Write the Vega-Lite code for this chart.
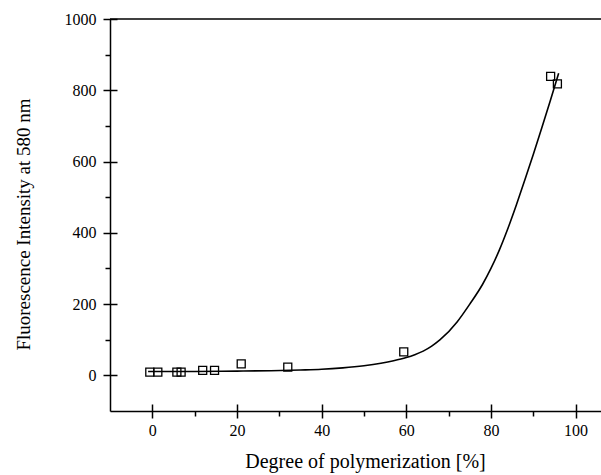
{
  "$schema": "https://vega.github.io/schema/vega-lite/v6.json",
  "width": 491,
  "height": 392,
  "autosize": "none",
  "padding": {"left": 110, "top": 19, "right": 0, "bottom": 64},
  "background": "white",
  "config": {
    "view": {"stroke": null},
    "font": "Liberation Serif",
    "axis": {
      "labelFont": "Liberation Serif",
      "titleFont": "Liberation Serif",
      "labelColor": "black",
      "titleColor": "black",
      "domainColor": "black",
      "tickColor": "black",
      "labelFontSize": 16,
      "titleFontSize": 20,
      "titleFontWeight": "normal",
      "grid": false,
      "domainWidth": 1.5,
      "tickWidth": 1.5
    }
  },
  "datasets": {
    "measured": [
      {"degree": -0.6, "intensity": 9},
      {"degree": 1.3, "intensity": 9},
      {"degree": 5.8, "intensity": 9},
      {"degree": 6.8, "intensity": 9},
      {"degree": 11.9, "intensity": 14},
      {"degree": 14.7, "intensity": 14},
      {"degree": 21.0, "intensity": 32},
      {"degree": 32.0, "intensity": 23},
      {"degree": 59.4, "intensity": 66},
      {"degree": 94.1, "intensity": 839},
      {"degree": 95.7, "intensity": 818}
    ],
    "fit": [
      {"degree": -1, "intensity": 11},
      {"degree": 10, "intensity": 11},
      {"degree": 20, "intensity": 12},
      {"degree": 28, "intensity": 13},
      {"degree": 35, "intensity": 15},
      {"degree": 40, "intensity": 17},
      {"degree": 45, "intensity": 21},
      {"degree": 50, "intensity": 27},
      {"degree": 54, "intensity": 34},
      {"degree": 57, "intensity": 41},
      {"degree": 60, "intensity": 50},
      {"degree": 62, "intensity": 58},
      {"degree": 64, "intensity": 68},
      {"degree": 66, "intensity": 82},
      {"degree": 68, "intensity": 100},
      {"degree": 72, "intensity": 150},
      {"degree": 75, "intensity": 200},
      {"degree": 78, "intensity": 255},
      {"degree": 80, "intensity": 300},
      {"degree": 82, "intensity": 352},
      {"degree": 84, "intensity": 412},
      {"degree": 86, "intensity": 478},
      {"degree": 88, "intensity": 548},
      {"degree": 90, "intensity": 620},
      {"degree": 92, "intensity": 694},
      {"degree": 94, "intensity": 770},
      {"degree": 96, "intensity": 848}
    ],
    "frame": [{"intensity": 1000}]
  },
  "resolve": {"axis": {"x": "independent", "y": "independent"}},
  "layer": [
    {
      "data": {"name": "fit"},
      "mark": {"type": "line", "interpolate": "monotone", "color": "black", "strokeWidth": 1.6},
      "encoding": {
        "x": {
          "field": "degree", "type": "quantitative",
          "scale": {"domain": [-10, 106], "nice": false, "zero": false},
          "axis": {
            "orient": "bottom", "title": "Degree of polymerization [%]",
            "values": [0, 20, 40, 60, 80, 100], "format": "d",
            "offset": -7, "tickSize": 14, "domain": false,
            "labelPadding": 4, "titlePadding": 13, "titleX": 255
          }
        },
        "y": {
          "field": "intensity", "type": "quantitative",
          "scale": {"domain": [-100, 1000], "nice": false, "zero": false},
          "axis": {
            "orient": "left", "title": "Fluorescence Intensity at 580 nm",
            "values": [0, 200, 400, 600, 800, 1000], "format": "d",
            "offset": -7, "tickSize": 14, "domain": false,
            "labelPadding": 7, "titlePadding": 31, "titleFontSize": 19, "titleY": 205
          }
        }
      }
    },
    {
      "data": {"name": "measured"},
      "mark": {"type": "point", "shape": "square", "filled": false, "color": "black", "size": 64, "strokeWidth": 1.3, "opacity": 1},
      "encoding": {
        "x": {
          "field": "degree", "type": "quantitative",
          "axis": {
            "orient": "bottom", "title": null, "labels": false,
            "values": [10, 30, 50, 70, 90], "tickSize": 5, "domain": true
          }
        },
        "y": {
          "field": "intensity", "type": "quantitative",
          "axis": {
            "orient": "left", "title": null, "labels": false,
            "values": [100, 300, 500, 700, 900], "tickSize": 5, "domain": true
          }
        }
      }
    },
    {
      "data": {"name": "frame"},
      "mark": {"type": "rule", "color": "black", "strokeWidth": 1.5},
      "encoding": {
        "y": {"field": "intensity", "type": "quantitative", "axis": null}
      }
    }
  ]
}
